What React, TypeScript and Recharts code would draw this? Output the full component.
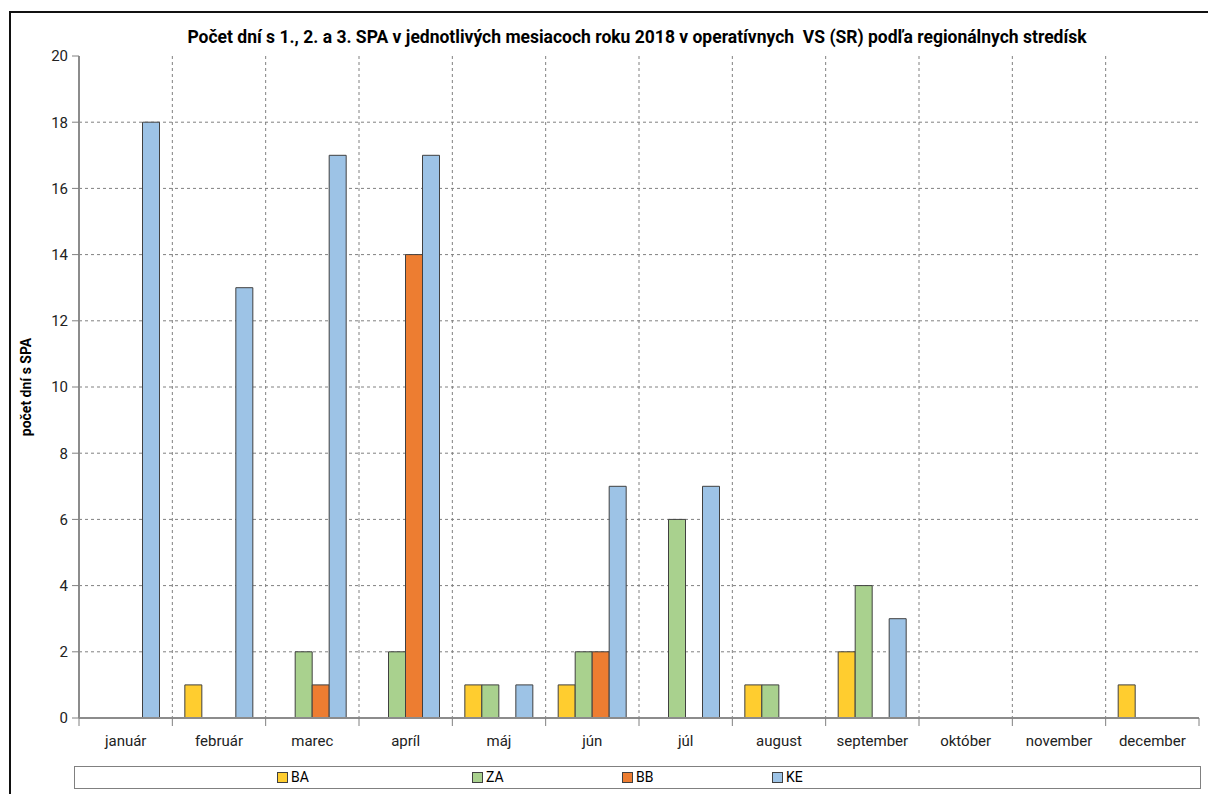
import React from "react";
import {
  BarChart,
  Bar,
  XAxis,
  YAxis,
  CartesianGrid,
  ReferenceLine,
} from "recharts";

const months = [
  "január", "február", "marec", "apríl", "máj", "jún",
  "júl", "august", "september", "október", "november", "december",
];
const baValues = [0, 1, 0, 0, 1, 1, 0, 1, 2, 0, 0, 1];
const zaValues = [0, 0, 2, 2, 1, 2, 6, 1, 4, 0, 0, 0];
const bbValues = [0, 0, 1, 14, 0, 2, 0, 0, 0, 0, 0, 0];
const keValues = [18, 13, 17, 17, 1, 7, 7, 0, 3, 0, 0, 0];
const yTicks = [0, 2, 4, 6, 8, 10, 12, 14, 16, 18, 20];

const series = [
  { key: "BA", color: "#FFCD2F" },
  { key: "ZA", color: "#A9D18E" },
  { key: "BB", color: "#ED7D31" },
  { key: "KE", color: "#9DC3E6" },
];

const data = months.map((m, i) => ({
  month: m,
  BA: baValues[i],
  ZA: zaValues[i],
  BB: bbValues[i],
  KE: keValues[i],
}));

const FONT = "'Liberation Sans Narrow', 'Arial Narrow', Roboto, sans-serif";

const W = 1208;
const H = 794;
const M = { top: 56, right: 9, left: 0, bottom: 36 };
const Y_AXIS_W = 79;
const X_AXIS_H = 40;
const PLOT_W = W - M.left - M.right - Y_AXIS_W;
const BAND = PLOT_W / months.length;
const AXIS_Y = H - M.bottom - X_AXIS_H;

// legend marker positions, taken from the original
const legendX = [277, 472, 622, 772];

const MonthTick = (props: any) => {
  const { x, payload, index } = props;
  const left = x - BAND / 2;
  return (
    <g>
      <line x1={left} x2={left} y1={AXIS_Y} y2={AXIS_Y + 8} stroke="#808080" />
      {index === months.length - 1 && (
        <line x1={left + BAND} x2={left + BAND} y1={AXIS_Y} y2={AXIS_Y + 8} stroke="#808080" />
      )}
      <text
        x={x}
        y={AXIS_Y + 28}
        textAnchor="middle"
        fontSize={15}
        fill="#222"
        fontFamily={FONT}
      >
        {payload.value}
      </text>
    </g>
  );
};

const App: React.FC = () => {
  return (
    <div
      style={{
        position: "absolute",
        left: 0,
        top: 0,
        width: W,
        height: H,
        background: "#fff",
        overflow: "hidden",
        fontFamily: FONT,
      }}
    >
      <div
        style={{
          position: "absolute",
          left: 9,
          top: 11,
          width: 1220,
          height: 820,
          border: "2px solid #111",
          boxSizing: "border-box",
        }}
      />
      <div
        style={{
          position: "absolute",
          left: 0,
          width: W,
          top: 27,
          textAlign: "center",
          paddingLeft: 66,
          boxSizing: "border-box",
          fontSize: 17.5,
          fontWeight: "bold",
          color: "#000",
        }}
      >
        Počet dní s 1., 2. a 3. SPA v jednotlivých mesiacoch roku 2018 v operatívnych&nbsp; VS (SR) podľa regionálnych stredísk
      </div>

      <div style={{ position: "absolute", left: 0, top: 0 }}>
        <BarChart
          width={W}
          height={H}
          data={data}
          margin={M}
          barCategoryGap="13.4%"
          barGap={0}
        >
          <CartesianGrid
            stroke="#808080"
            strokeDasharray="3 3"
            horizontalValues={yTicks.slice(1, -1)}
            verticalCoordinatesGenerator={({ offset }: any) =>
              months.slice(1).map((_, i) => offset.left + ((i + 1) * offset.width) / months.length)
            }
          />
          <XAxis
            dataKey="month"
            height={X_AXIS_H}
            tickLine={false}
            axisLine={{ stroke: "#8c8c8c", strokeWidth: 2 }}
            tick={<MonthTick />}
            interval={0}
          />
          <XAxis xAxisId="top" orientation="top" dataKey="month" height={0} tick={false} tickLine={false} axisLine={{ stroke: "#333" }} />
          <YAxis
            width={Y_AXIS_W}
            domain={[0, 20]}
            ticks={yTicks}
            interval={0}
            tickSize={7}
            tickLine={{ stroke: "#808080" }}
            axisLine={{ stroke: "#8c8c8c", strokeWidth: 2 }}
            tick={{ fontSize: 15, fill: "#222", fontFamily: FONT }}
            tickMargin={4}
            label={{
              value: "počet dní s SPA",
              angle: -90,
              position: "insideLeft",
              offset: 26,
              style: { fontSize: 14, fontWeight: "bold", fill: "#000", textAnchor: "middle", fontFamily: FONT },
            }}
          />
          <YAxis yAxisId="right" orientation="right" width={0} tick={false} tickLine={false} axisLine={{ stroke: "#333" }} />
          {series.map((s) => (
            <Bar
              key={s.key}
              dataKey={s.key}
              fill={s.color}
              stroke="#404040"
              strokeWidth={1}
              isAnimationActive={false}
            />
          ))}
          <ReferenceLine y={0} stroke="#8c8c8c" strokeWidth={2} />
        </BarChart>
      </div>

      <div
        style={{
          position: "absolute",
          left: 74,
          top: 766,
          width: 1127,
          height: 23,
          border: "1px solid #808080",
          boxSizing: "border-box",
        }}
      >
        {series.map((s, i) => (
          <div
            key={s.key}
            style={{
              position: "absolute",
              left: legendX[i] - 75,
              top: 2,
              display: "flex",
              alignItems: "center",
              fontSize: 14,
              color: "#000",
            }}
          >
            <span
              style={{
                display: "inline-block",
                width: 9,
                height: 9,
                background: s.color,
                border: "1px solid #404040",
                marginRight: 3,
              }}
            />
            {s.key}
          </div>
        ))}
      </div>
    </div>
  );
};

export default App;
